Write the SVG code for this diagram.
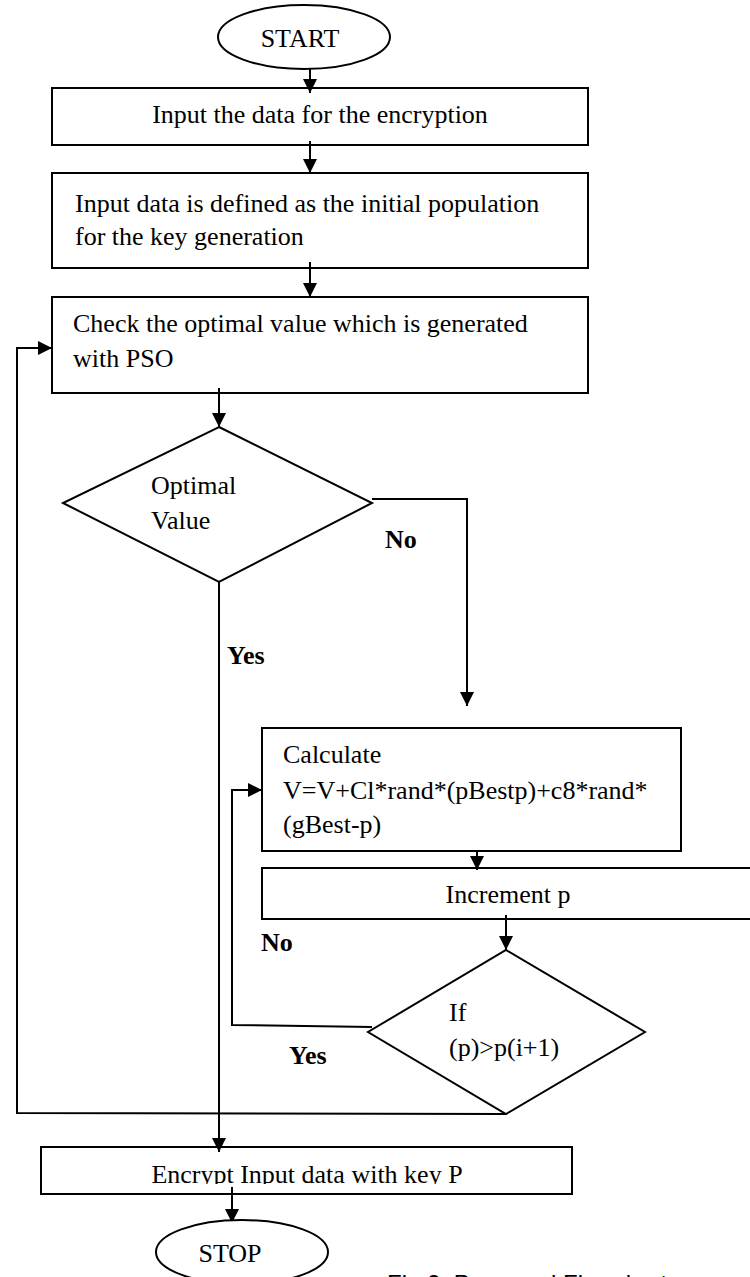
<svg xmlns="http://www.w3.org/2000/svg" width="750" height="1277" viewBox="0 0 750 1277">
<style>
.s{fill:#fff;stroke:#000;stroke-width:2}
.t{font-family:"Liberation Serif","Times New Roman",serif;font-size:26px;fill:#000}
.b{font-family:"Liberation Serif","Times New Roman",serif;font-size:26px;font-weight:bold;fill:#000}
.c{fill:none;stroke:#000;stroke-width:2}
</style>
<defs>
<marker id="ah" viewBox="0 0 14 14" refX="14" refY="7" markerWidth="14" markerHeight="14" markerUnits="userSpaceOnUse" orient="auto">
<path d="M0,0 L14,7 L0,14 Z" fill="#000"/>
</marker>
<clipPath id="clipEnc"><rect x="0" y="1140" width="750" height="44"/></clipPath>
</defs>
<rect width="750" height="1277" fill="#fff"/>

<g id="connectors">
<path class="c" d="M310,68 V93" marker-end="url(#ah)"/>
<path class="c" d="M310,141 V173" marker-end="url(#ah)"/>
<path class="c" d="M310,262 V297" marker-end="url(#ah)"/>
<path class="c" d="M219,388 V427" marker-end="url(#ah)"/>
<path class="c" d="M372,499 H467 V706" marker-end="url(#ah)"/>
<path class="c" d="M219,582 V1152" marker-end="url(#ah)"/>
<path class="c" d="M477,851 V870" marker-end="url(#ah)"/>
<path class="c" d="M506,915 V950" marker-end="url(#ah)"/>
<path class="c" d="M372,1027 L232,1025 V790 H262" marker-end="url(#ah)"/>
<path class="c" d="M506,1114 L17,1113 V348 H52" marker-end="url(#ah)"/>
<path class="c" d="M232,1187 V1223" marker-end="url(#ah)"/>
</g>

<g id="start">
<ellipse class="s" cx="304" cy="37" rx="86" ry="32"/>
<text class="t" x="300" y="47" text-anchor="middle">START</text>
</g>

<g id="input">
<rect class="s" x="52" y="88" width="536" height="57" fill-opacity="0"/>
<text class="t" x="320" y="123" text-anchor="middle">Input the data for the encryption</text>
</g>

<g id="population">
<rect class="s" x="52" y="173" width="536" height="95" fill-opacity="0"/>
<text class="t" x="75" y="212">Input data is defined as the initial population</text>
<text class="t" x="75" y="245">for the key generation</text>
</g>

<g id="check">
<rect class="s" x="52" y="297" width="536" height="96" fill-opacity="0"/>
<text class="t" x="73" y="332">Check the optimal value which is generated</text>
<text class="t" x="73" y="367">with PSO</text>
</g>

<g id="optimal">
<polygon class="s" points="219,427 372,503 219,582 63,503" fill-opacity="0"/>
<text class="t" x="151" y="494">Optimal</text>
<text class="t" x="151" y="529">Value</text>
</g>

<g id="labels">
<text class="b" x="385" y="548">No</text>
<text class="b" x="227" y="664">Yes</text>
<text class="b" x="261" y="951">No</text>
<text class="b" x="289" y="1064">Yes</text>
</g>

<g id="calculate">
<rect class="s" x="262" y="728" width="419" height="123" fill-opacity="0"/>
<text class="t" x="283" y="763">Calculate</text>
<text class="t" x="283" y="799">V=V+Cl*rand*(pBestp)+c8*rand*</text>
<text class="t" x="283" y="833">(gBest-p)</text>
</g>

<g id="increment">
<rect class="s" x="262" y="868" width="520" height="51" fill-opacity="0"/>
<text class="t" x="508" y="903" text-anchor="middle">Increment p</text>
</g>

<g id="ifcheck">
<polygon class="s" points="506,950 645,1032 506,1114 368,1032" fill-opacity="0"/>
<text class="t" x="449" y="1021">If</text>
<text class="t" x="449" y="1056">(p)&gt;p(i+1)</text>
</g>

<g id="encrypt">
<rect class="s" x="41" y="1147" width="531" height="47" fill-opacity="0"/>
<text class="t" x="307" y="1183" text-anchor="middle" clip-path="url(#clipEnc)">Encrypt Input data with key P</text>
</g>

<g id="stop">
<ellipse class="s" cx="242" cy="1252" rx="86" ry="32"/>
<text class="t" x="230" y="1262" text-anchor="middle">STOP</text>
</g>

<g id="caption">
<text x="387" y="1292" font-family="Liberation Sans, Arial, sans-serif" font-size="24" fill="#000">Fig.2: Proposed Flowchart</text>
</g>
</svg>
